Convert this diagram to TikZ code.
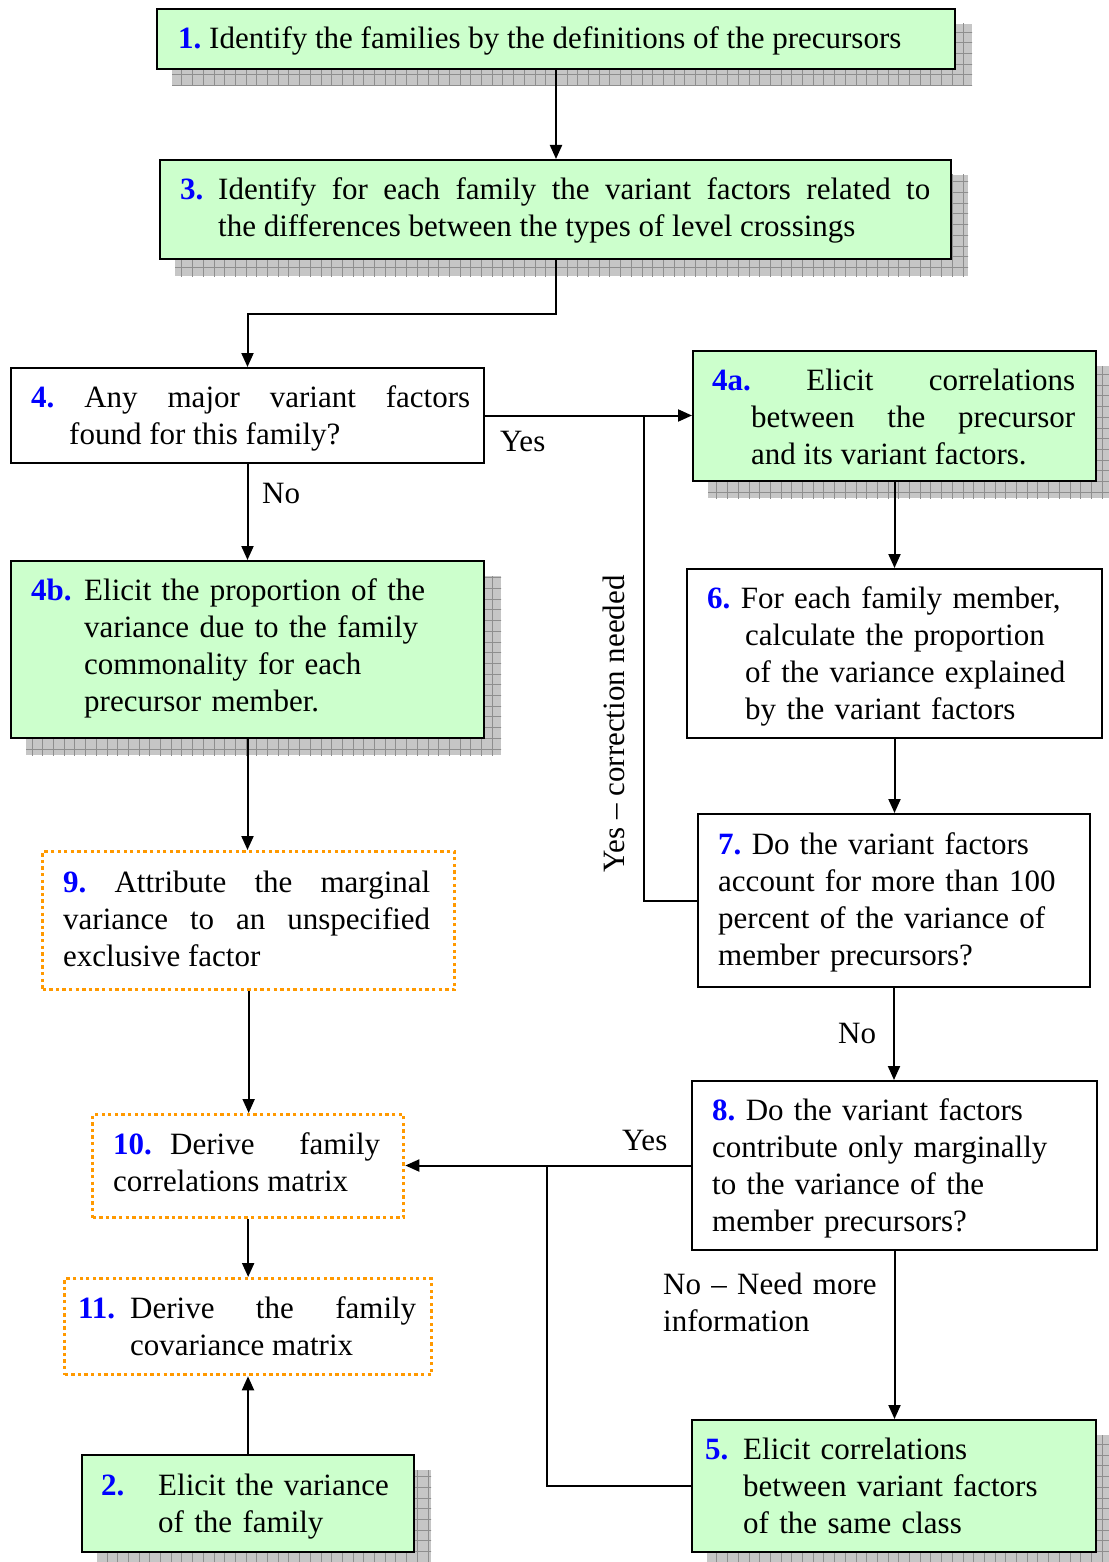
\documentclass[tikz,border=0pt]{standalone}
\usepackage{fontspec}
\setmainfont{Liberation Serif}
\usetikzlibrary{arrows.meta,backgrounds}
\definecolor{boxgreen}{HTML}{CCFFCC}
\definecolor{numblue}{HTML}{0000FF}
\definecolor{dotorange}{HTML}{FF9900}
\definecolor{shadowfill}{HTML}{C6C6C6}
\definecolor{shadowline}{HTML}{8E8E8E}
\newcommand{\nb}[1]{\textcolor{numblue}{\textbf{#1}}}
\newcommand{\hang}[1]{\hangindent=#1\hangafter=1 }

\begin{document}
\begin{tikzpicture}[x=1pt,y=-1pt,
  every node/.style={font=\fontsize{31}{37}\selectfont\frenchspacing},
  boxbase/.style={draw=black, line width=2pt, anchor=north west, inner sep=0pt},
  greenbox/.style={boxbase, fill=boxgreen},
  whitebox/.style={boxbase, fill=white},
  dotbox/.style={anchor=north west, inner sep=0pt, draw=dotorange, line width=3.3pt,
                 dash pattern=on 3.3pt off 3.3pt, fill=white},
  jtxt/.style={anchor=base west, inner sep=0pt, align=justify},
  rtxt/.style={anchor=base west, inner sep=0pt, align=left},
  lbl/.style={inner sep=0pt, anchor=base west},
  flow/.style={line width=2pt, -{Triangle[length=14pt,width=12pt]}},
  link/.style={line width=2pt}
]
\useasboundingbox (0,0) rectangle (1108,1562);

% ---- boxes ----
\node[greenbox, minimum width=798pt, minimum height=60pt] (b1) at (156,8) {};
\node[greenbox, minimum width=791pt, minimum height=99pt] (b3) at (159,159) {};
\node[whitebox, minimum width=473pt, minimum height=95pt] (b4) at (10,367) {};
\node[greenbox, minimum width=403pt, minimum height=130pt] (b4a) at (692,350) {};
\node[greenbox, minimum width=473pt, minimum height=177pt] (b4b) at (10,560) {};
\node[whitebox, minimum width=415pt, minimum height=169pt] (b6) at (686,568) {};
\node[whitebox, minimum width=392pt, minimum height=173pt] (b7) at (697,813) {};
\node[dotbox, minimum width=412pt, minimum height=138pt] (b9) at (41,850) {};
\node[whitebox, minimum width=405pt, minimum height=169pt] (b8) at (691,1080) {};
\node[dotbox, minimum width=311pt, minimum height=103pt] (b10) at (91,1113) {};
\node[dotbox, minimum width=367pt, minimum height=96pt] (b11) at (63,1277) {};
\node[greenbox, minimum width=332pt, minimum height=97pt] (b2) at (81,1454) {};
\node[greenbox, minimum width=404pt, minimum height=132pt] (b5) at (691,1419) {};

% ---- grid-hatched drop shadows behind the green boxes ----
\begin{scope}[on background layer]
  \foreach \b in {b1,b3,b4a,b4b,b2,b5}{
    \fill[shadowfill] ([shift={(16,16)}]\b.north west) rectangle ([shift={(16,16)}]\b.south east);
    \begin{scope}
      \clip ([shift={(16,16)}]\b.north west) rectangle ([shift={(16,16)}]\b.south east);
      \draw[shadowline, line width=1pt, step=10.7pt]
        ([shift={(10,10)}]\b.north west) grid ([shift={(22,22)}]\b.south east);
    \end{scope}
  }
\end{scope}

% ---- box texts ----
\node[lbl] (t1) at (178,49) {\nb{1.} Identify the families by the definitions of the precursors};
\node[jtxt, text width=750pt] (t3) at (180,200)
  {\noindent\hang{38pt}\makebox[38pt][l]{\nb{3.}}Identify for each family the variant factors related to\linebreak the differences between the types of level crossings\par};
\node[jtxt, text width=439pt] (t4) at (31,407)
  {\noindent\hang{38pt}\nb{4.} Any major variant factors\linebreak found for this family?\par};
\node[jtxt, text width=363pt] (t4a) at (712,390)
  {\noindent\hang{39pt}\nb{4a.} Elicit correlations\linebreak between the precursor\linebreak and its variant factors.\par};
\node[rtxt, text width=420pt] (t4b) at (31,600)
  {\noindent\hang{53pt}\makebox[53pt][l]{\nb{4b.}}Elicit the proportion of the\newline variance due to the family\newline commonality for each\newline precursor member.\par};
\node[rtxt, text width=380pt] (t6) at (707,608)
  {\noindent\hang{38pt}\nb{6.} For each family member,\newline calculate the proportion\newline of the variance explained\newline by the variant factors\par};
\node[rtxt, text width=365pt] (t7) at (718,854)
  {\nb{7.} Do the variant factors\\ account for more than 100\\ percent of the variance of\\ member precursors?};
\node[jtxt, text width=367pt] (t9) at (63,892)
  {\noindent\nb{9.} Attribute the marginal\linebreak variance to an unspecified\linebreak exclusive factor\par};
\node[rtxt, text width=375pt] (t8) at (712,1120)
  {\nb{8.} Do the variant factors\\ contribute only marginally\\ to the variance of the\\ member precursors?};
\node[jtxt, text width=267pt] (t10) at (113,1154)
  {\noindent\makebox[57pt][l]{\nb{10.}}Derive family\linebreak correlations matrix\par};
\node[jtxt, text width=338pt] (t11) at (78,1318)
  {\noindent\hang{52pt}\makebox[52pt][l]{\nb{11.}}Derive the family\linebreak covariance matrix\par};
\node[rtxt, text width=300pt] (t2) at (101,1495)
  {\noindent\hang{57pt}\makebox[57pt][l]{\nb{2.}}Elicit the variance\newline of the family\par};
\node[rtxt, text width=380pt] (t5) at (705,1459)
  {\noindent\hang{38pt}\makebox[38pt][l]{\nb{5.}}Elicit correlations\newline between variant factors\newline of the same class\par};

% ---- connector labels ----
\node[lbl] (lyes1) at (500,451) {Yes};
\node[lbl] (lno1) at (262,503) {No};
\node[lbl] (lno2) at (838,1043) {No};
\node[lbl] (lyes2) at (622,1150) {Yes};
\node[rtxt, text width=240pt] (lno3) at (663,1294) {No – Need more\\ information};
\node[inner sep=0pt, rotate=90] (lcorr) at (614,724) {Yes – correction needed};

% ---- junction points ----
\coordinate (j1) at (644,414.5);
\coordinate (j2) at (547,1164.5);

% ---- connectors ----
\draw[flow] (b1.south) -- (b3.north -| b1.south);
\draw[flow] (b3.south) -- ++(0,54) -| (b4.north);
\draw[flow] (b4.east) -- (b4.east -| b4a.west);
\draw[flow] (b4.south) -- (b4b.north);
\draw[flow] (b4a.south) -- (b6.north);
\draw[flow] (b6.south) -- (b7.north -| b6.south);
\draw[link] (b7.west) -| (j1);
\draw[flow] (b7.south) -- (b8.north -| b7.south);
\draw[flow] (b8.west) -- (b8.west -| b10.east);
\draw[link] (b5.west) -| (j2);
\draw[flow] (b8.south) -- (b5.north -| b8.south);
\draw[flow] (b4b.south) -- (b9.north -| b4b.south);
\draw[flow] (b9.south) -- (b10.north -| b9.south);
\draw[flow] (b10.south) -- (b11.north -| b10.south);
\draw[flow] (b2.north) -- (b11.south -| b2.north);
\end{tikzpicture}
\end{document}
